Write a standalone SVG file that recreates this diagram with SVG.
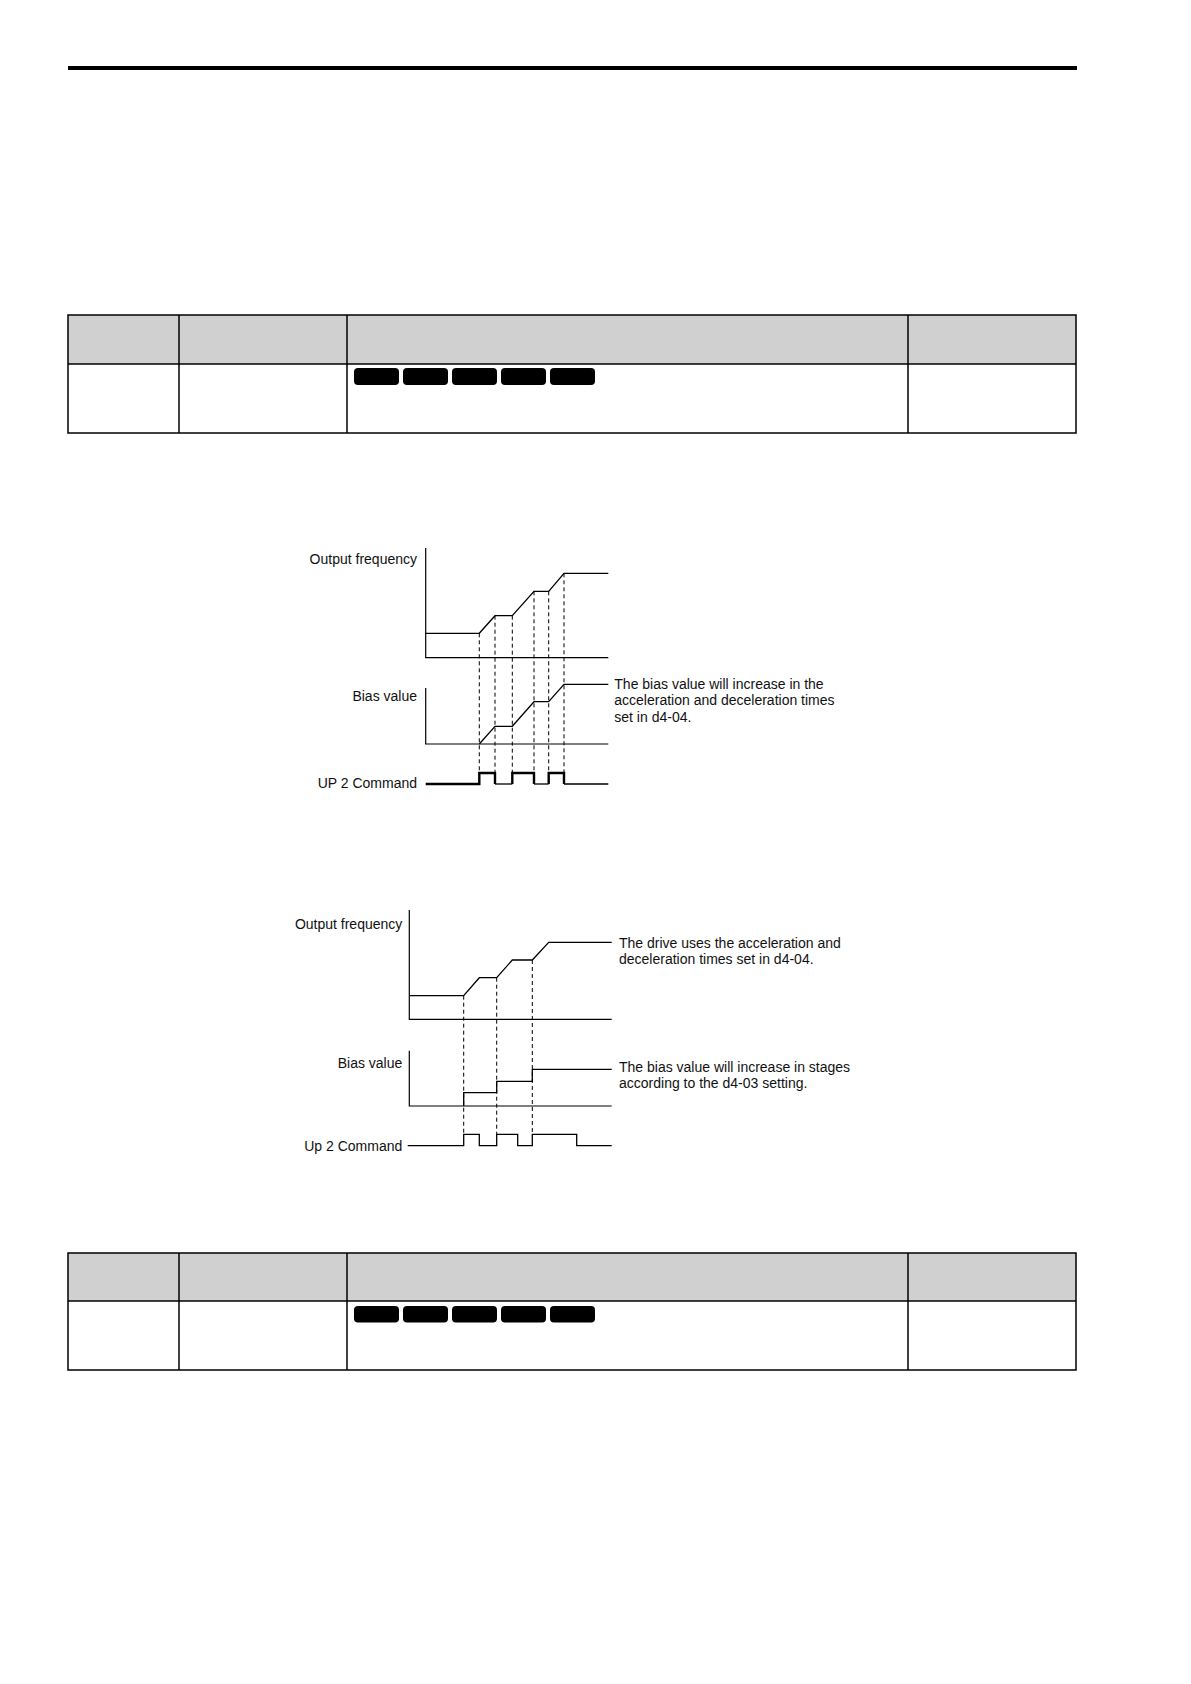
<svg xmlns="http://www.w3.org/2000/svg" width="1191" height="1684" viewBox="0 0 1191 1684">
<style>
.t{font-family:"Liberation Sans",Arial,sans-serif;font-size:14px;fill:#111}
.e{text-anchor:end}
.ax{stroke:#000;stroke-width:1.2;fill:none}
.wf{stroke:#000;stroke-width:1.3;fill:none;stroke-linejoin:miter}
.th{stroke:#000;stroke-width:2.4;fill:none}
.ds{stroke:#000;stroke-width:1;stroke-dasharray:4,3;fill:none}
.hd{fill:#d0d0d0}
.bd{stroke:#000;stroke-width:1.5;fill:none}
.pill{fill:#000}
</style>
<rect width="1191" height="1684" fill="#fff"/>
<g id="top-rule"><rect x="68" y="66" width="1009" height="4" fill="#000"/></g>

<g id="table1">
<rect class="hd" x="68" y="315" width="1008" height="49"/>
<rect class="bd" x="68" y="315" width="1008" height="118"/>
<line class="bd" x1="68" y1="364" x2="1076" y2="364"/>
<line class="bd" x1="179" y1="315" x2="179" y2="433"/>
<line class="bd" x1="347" y1="315" x2="347" y2="433"/>
<line class="bd" x1="908" y1="315" x2="908" y2="433"/>
<rect class="pill" x="354" y="368" width="45" height="17" rx="4"/>
<rect class="pill" x="403" y="368" width="45" height="17" rx="4"/>
<rect class="pill" x="452" y="368" width="45" height="17" rx="4"/>
<rect class="pill" x="501" y="368" width="45" height="17" rx="4"/>
<rect class="pill" x="550" y="368" width="45" height="17" rx="4"/>
</g>

<g id="chart1">
<text class="t e" x="417" y="564">Output frequency</text>
<text class="t e" x="417" y="701">Bias value</text>
<text class="t e" x="417" y="788">UP 2 Command</text>
<polyline class="ax" points="425.7,548 425.7,657.7 608.3,657.7"/>
<polyline class="ax" points="425.7,688 425.7,744 608.3,744"/>
<polyline class="wf" points="425.7,633.3 479.3,633.3 495,615.7 512.3,615.7 534,591.3 548.7,591.3 564,573.3 608.3,573.3"/>
<polyline class="wf" points="479.3,744 495,726.3 512.3,726.3 534,701.7 548.7,701.7 564,684.3 608.3,684.3"/>
<g id="chart1-dashes">
<line class="ds" x1="479.3" y1="633.3" x2="479.3" y2="773"/>
<line class="ds" x1="495" y1="615.7" x2="495" y2="773"/>
<line class="ds" x1="512.3" y1="615.7" x2="512.3" y2="773"/>
<line class="ds" x1="534" y1="591.3" x2="534" y2="773"/>
<line class="ds" x1="548.7" y1="591.3" x2="548.7" y2="773"/>
<line class="ds" x1="564" y1="573.3" x2="564" y2="773"/>
</g>
<polyline class="th" points="425.7,784 479.3,784 479.3,773 495,773 495,784"/>
<polyline class="wf" points="495,784 512.3,784"/>
<polyline class="th" points="512.3,784 512.3,773 534,773 534,784"/>
<polyline class="wf" points="534,784 548.7,784"/>
<polyline class="th" points="548.7,784 548.7,773 564,773 564,784"/>
<polyline class="wf" points="564,784 608.3,784"/>
<text class="t" x="614.3" y="688.5">The bias value will increase in the</text>
<text class="t" x="614.3" y="705">acceleration and deceleration times</text>
<text class="t" x="614.3" y="721.5">set in d4-04.</text>
</g>

<g id="chart2">
<text class="t e" x="402.3" y="929">Output frequency</text>
<text class="t e" x="402.3" y="1068">Bias value</text>
<text class="t e" x="402.3" y="1150.5">Up 2 Command</text>
<polyline class="ax" points="409.3,910 409.3,1019.3 611.7,1019.3"/>
<polyline class="ax" points="409.3,1050.7 409.3,1106 611.7,1106"/>
<polyline class="wf" points="409.3,995.7 463.7,995.7 479.3,977.7 496.7,977.7 512.3,960 532.3,960 548.7,942.3 611.7,942.3"/>
<polyline class="wf" points="463.7,1106 463.7,1092.7 496.7,1092.7 496.7,1081.3 532.3,1081.3 532.3,1069.3 611.7,1069.3"/>
<g id="chart2-dashes">
<line class="ds" x1="463.7" y1="995.7" x2="463.7" y2="1134.3"/>
<line class="ds" x1="496.7" y1="977.7" x2="496.7" y2="1134.3"/>
<line class="ds" x1="532.3" y1="960" x2="532.3" y2="1134.3"/>
</g>
<polyline class="wf" points="407.7,1145.7 463.7,1145.7 463.7,1134.3 479.3,1134.3 479.3,1145.7 496.7,1145.7 496.7,1134.3 517.7,1134.3 517.7,1145.7 532.3,1145.7 532.3,1134.3 576.7,1134.3 576.7,1145.7 611.7,1145.7"/>
<text class="t" x="619" y="947.7">The drive uses the acceleration and</text>
<text class="t" x="619" y="964.3">deceleration times set in d4-04.</text>
<text class="t" x="619" y="1071.7">The bias value will increase in stages</text>
<text class="t" x="619" y="1088.3">according to the d4-03 setting.</text>
</g>

<g id="table2">
<rect class="hd" x="68" y="1253" width="1008" height="48"/>
<rect class="bd" x="68" y="1253" width="1008" height="117"/>
<line class="bd" x1="68" y1="1301" x2="1076" y2="1301"/>
<line class="bd" x1="179" y1="1253" x2="179" y2="1370"/>
<line class="bd" x1="347" y1="1253" x2="347" y2="1370"/>
<line class="bd" x1="908" y1="1253" x2="908" y2="1370"/>
<rect class="pill" x="354" y="1306" width="45" height="16.5" rx="4"/>
<rect class="pill" x="403" y="1306" width="45" height="16.5" rx="4"/>
<rect class="pill" x="452" y="1306" width="45" height="16.5" rx="4"/>
<rect class="pill" x="501" y="1306" width="45" height="16.5" rx="4"/>
<rect class="pill" x="550" y="1306" width="45" height="16.5" rx="4"/>
</g>
</svg>
